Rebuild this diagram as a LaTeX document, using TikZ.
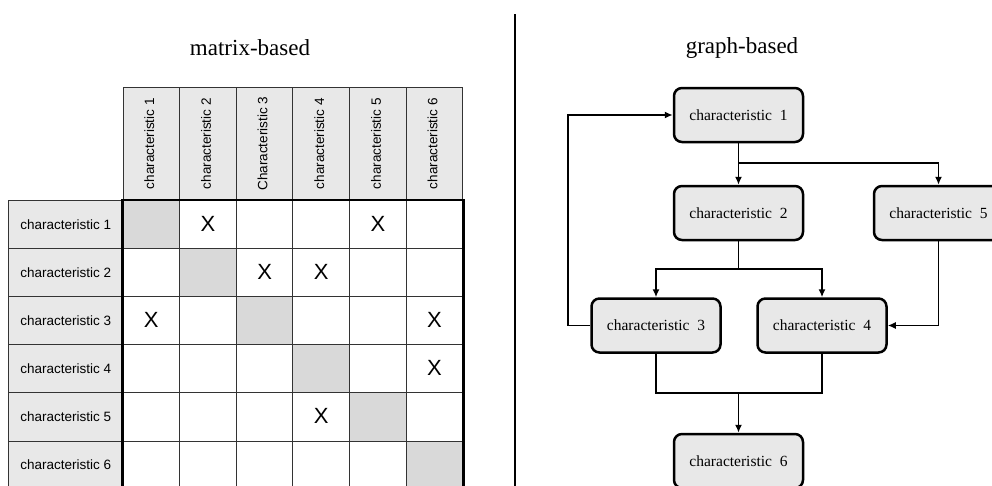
\documentclass[tikz,border=0pt]{standalone}
\usepackage{fontspec}
\setmainfont{Liberation Serif}
\newfontfamily\arialf{Liberation Sans}
\usetikzlibrary{arrows.meta}
\definecolor{hdr}{HTML}{E8E8E8}
\definecolor{diagc}{HTML}{D9D9D9}
\definecolor{gridc}{HTML}{333333}
\begin{document}
\begin{tikzpicture}[x=1pt,y=-1pt,
  title/.style={font=\fontsize{23}{27}\selectfont, inner sep=0pt},
  hdrbox/.style={draw=gridc, line width=1pt, fill=hdr, minimum width=56.65pt, minimum height=113.7pt, inner sep=0pt},
  hdrtext/.style={font=\arialf\fontsize{13.5}{15}\selectfont, inner sep=0pt, rotate=90},
  rowbox/.style={draw=gridc, line width=1pt, fill=hdr, minimum width=114.7pt, minimum height=48.06pt, inner sep=0pt, font=\arialf\fontsize{13.5}{15}\selectfont},
  cellbox/.style={draw=gridc, line width=1pt, fill=white, minimum width=56.65pt, minimum height=48.06pt, inner sep=0pt},
  xmark/.style={font=\arialf\fontsize{22}{24}\selectfont, inner sep=0pt},
  gnode/.style={draw=black, line width=2.5pt, rounded corners=8pt, fill=hdr, minimum width=129pt, minimum height=54pt, inner sep=0pt, font=\fontsize{15.5}{18}\selectfont},
  conn/.style={draw=black, line width=1.5pt},
  arr/.style={conn, -{Latex[length=8pt,width=7pt]}},
  sep/.style={draw=black, line width=2.5pt}
]
\useasboundingbox (0,0) rectangle (992,485);
\clip (0,0) rectangle (992,485);

% titles
\node[title] (t1) at (250,48) {matrix-based};
\node[title] (t2) at (742,48) {graph-based};

% separator
\coordinate (s1) at (515,14);
\coordinate (s2) at (515,490);
\draw[sep] (s1) -- (s2);

% matrix header
\foreach \j/\lab in {1/characteristic 1,2/characteristic 2,3/Characteristic 3,4/characteristic 4,5/characteristic 5,6/characteristic 6}{
  \node[hdrbox] (h\j) at ({123+56.65*(\j-0.5)},143.85) {};
  \node[hdrtext] (ht\j) at ([xshift=-2pt]h\j.center) {\lab};
}
% rows
\foreach \i in {1,...,6}{
  \node[rowbox] (r\i) at (65.65,{200.7+48.06*(\i-0.5)}) {characteristic\ \i};
  \foreach \j in {1,...,6}{
    \node[cellbox] (c\i\j) at ({123+56.65*(\j-0.5)},{200.7+48.06*(\i-0.5)}) {};
  }
  \node[cellbox, fill=diagc] (d\i) at (c\i\i) {};
}
% X marks
\foreach \i/\j in {1/2,1/5,2/3,2/4,3/1,3/6,4/6,5/4}{
  \node[xmark] (x\i\j) at ([yshift=1pt]c\i\j.center) {X};
}
% thick frame of the cell area
\draw[line width=2.2pt] (c61.south west) -- (c11.north west) -- (c16.north east) -- (c66.south east);

% graph
\node[gnode] (n1) at (738.5,115) {characteristic\ \ 1};
\node[gnode] (n2) at (738.5,213) {characteristic\ \ 2};
\node[gnode] (n5) at (938.5,213) {characteristic\ \ 5};
\node[gnode] (n3) at (656,325.5) {characteristic\ \ 3};
\node[gnode] (n4) at (822,325.5) {characteristic\ \ 4};
\node[gnode] (n6) at (738.5,461) {characteristic\ \ 6};

\coordinate (b1) at (738.5,163);
\coordinate (b2) at (738.5,269);
\coordinate (b3) at (738.5,393);
\coordinate (lp) at (568,325.5);

\draw[arr] (n1.south) -- (n2.north);
\draw[arr] (b1) -| (n5.north);
\draw[conn] (n2.south) -- (b2);
\draw[arr] (b2) -| (n3.north);
\draw[arr] (b2) -| (n4.north);
\draw[arr] (n5.south) |- (n4.east);
\draw[arr] (n3.west) -- (lp) |- (n1.west);
\draw[conn] (n3.south) |- (b3) -| (n4.south);
\draw[arr, line width=1.9pt] (b3) -- (n6.north);
\end{tikzpicture}
\end{document}
